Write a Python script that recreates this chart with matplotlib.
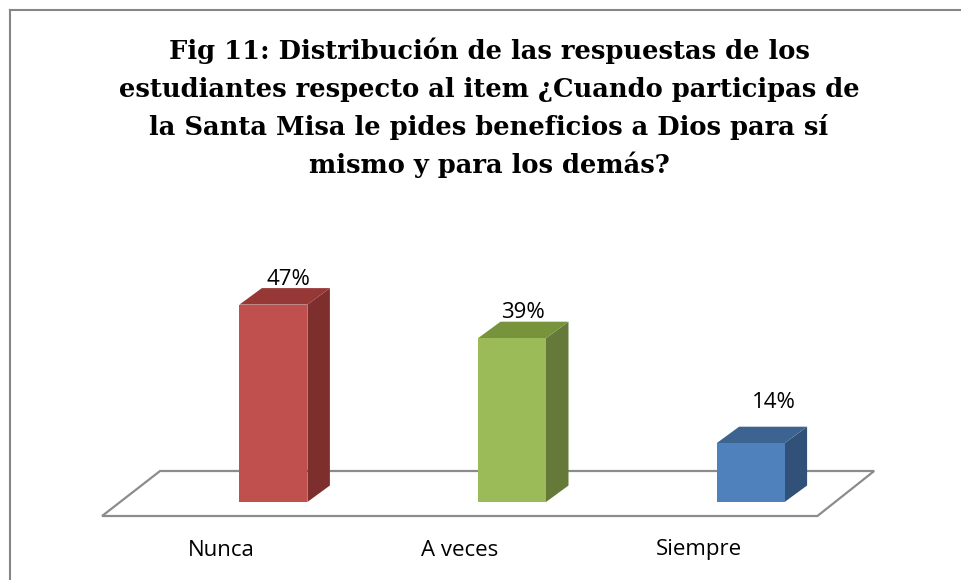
import numpy as np
import matplotlib
matplotlib.use('Agg')
import matplotlib.pyplot as plt
from matplotlib.patches import Polygon
from matplotlib.lines import Line2D

# 数据
categories = ['Nunca', 'A veces', 'Siempre']
percent = [47, 39, 14]
value_labels = ['47%', '39%', '14%']
title_lines = [
    'Fig 11: Distribución de las respuestas de los',
    'estudiantes respecto al item ¿Cuando participas de',
    'la Santa Misa le pides beneficios a Dios para sí',
    'mismo y para los demás?',
]

# 配色 (正面, 侧面, 顶面)
COLORS = {
    'front': ['#C0504D', '#9BBB59', '#4F81BD'],
    'side': ['#7D2F2D', '#657A39', '#325179'],
    'top': ['#953836', '#77933C', '#3D6391'],
    'floor': '#8C8C8C',
    'border': '#868686',
}

W, H, DPI = 961, 580, 100
px_x = 238.6          # 每个类别的像素宽度
px_y = 4.2            # 每 1% 的像素高度
x0_px, y0_px = 273.4, 580 - 502   # 第一个柱子的中心 / 柱底

bar_w = 68 / px_x
depth_x = 22.5 / px_x
depth_y = 16.5 / px_y

fig = plt.figure(figsize=(W / DPI, H / DPI), dpi=DPI)
fig.patch.set_facecolor('white')
ax = fig.add_axes([0, 0, 1, 1])
ax.set_xlim(-x0_px / px_x, (W - x0_px) / px_x)
ax.set_ylim(-y0_px / px_y, (H - y0_px) / px_y)
ax.axis('off')

# ---- 底面 (平行四边形) ----
n = len(categories)
fy_front = -14 / px_y
fy_back = 31 / px_y
floor = Polygon(
    [(-0.718, fy_front), (n - 1 + 0.28, fy_front),
     (n - 1 + 0.518, fy_back), (-0.475, fy_back)],
    closed=True, facecolor='white', edgecolor=COLORS['floor'], linewidth=1.6, zorder=1,
)
ax.add_patch(floor)

# ---- 3D 柱子 ----
for i, v in enumerate(percent):
    l, r = i - bar_w / 2, i + bar_w / 2
    front = Polygon([(l, 0), (r, 0), (r, v), (l, v)], closed=True,
                    facecolor=COLORS['front'][i], edgecolor='none', zorder=3)
    side = Polygon([(r, 0), (r + depth_x, depth_y), (r + depth_x, v + depth_y), (r, v)],
                   closed=True, facecolor=COLORS['side'][i], edgecolor='none', zorder=3)
    top = Polygon([(l, v), (l + depth_x, v + depth_y), (r + depth_x, v + depth_y), (r, v)],
                  closed=True, facecolor=COLORS['top'][i], edgecolor='none', zorder=3)
    for p in (side, top, front):
        ax.add_patch(p)

# ---- 数值标签 ----
label_nudge = [(4, 9), (0, 9), (12, 24)]
for i, (v, txt) in enumerate(zip(percent, value_labels)):
    ax.annotate(txt, xy=(i + depth_x / 2, v + depth_y),
                xytext=label_nudge[i], textcoords='offset pixels',
                ha='center', va='center', fontsize=16, family='Open Sans',
                color='black', zorder=5)

# ---- 类别标签 ----
for i, name in enumerate(categories):
    ax.text(i - 52 / px_x, -48 / px_y, name, ha='center', va='center',
            fontsize=16, family='Open Sans', color='black')

# ---- 标题 ----
baselines = [59, 97, 135, 173]
for line, yb in zip(title_lines, baselines):
    fig.text(489 / W, 1 - yb / H, line, ha='center', va='baseline',
             fontsize=18.5, fontweight='bold', family='DejaVu Serif', color='black')

# ---- 外框 (上边和左边) ----
fig.add_artist(Line2D([10 / W, 1], [1 - 10 / H, 1 - 10 / H],
                      transform=fig.transFigure, color=COLORS['border'], linewidth=1.5))
fig.add_artist(Line2D([10 / W, 10 / W], [0, 1 - 10 / H],
                      transform=fig.transFigure, color=COLORS['border'], linewidth=1.5))

fig.savefig('out.png', dpi=DPI, facecolor='white')
